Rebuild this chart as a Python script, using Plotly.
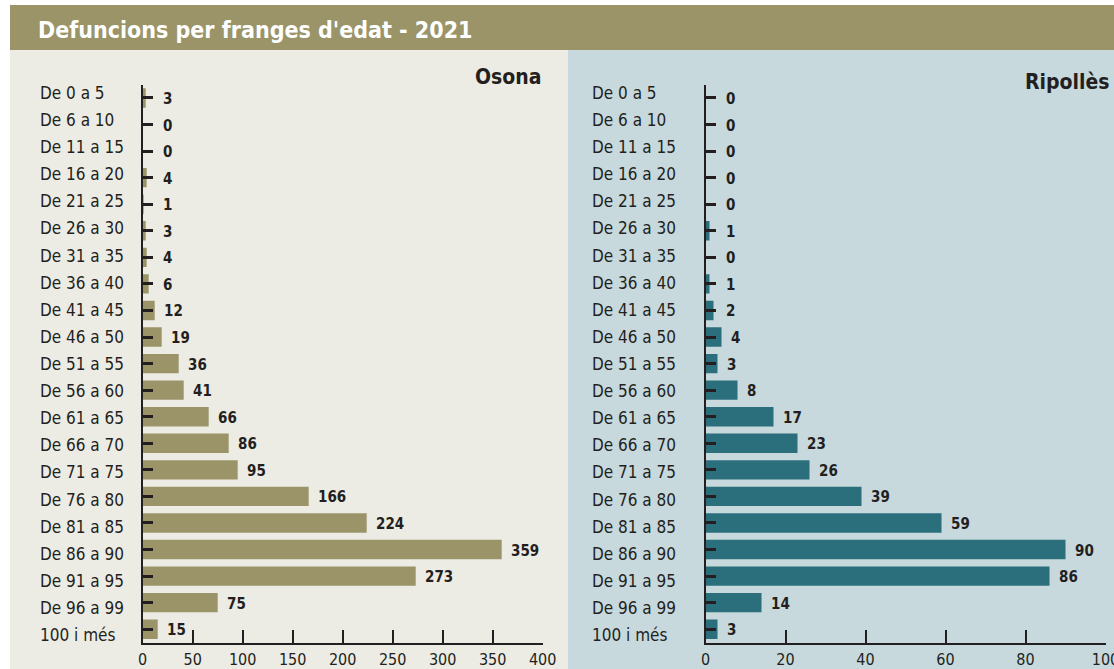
import plotly.graph_objects as go

W, H = 1114, 669

categories = ["De 0 a 5", "De 6 a 10", "De 11 a 15", "De 16 a 20", "De 21 a 25",
              "De 26 a 30", "De 31 a 35", "De 36 a 40", "De 41 a 45", "De 46 a 50",
              "De 51 a 55", "De 56 a 60", "De 61 a 65", "De 66 a 70", "De 71 a 75",
              "De 76 a 80", "De 81 a 85", "De 86 a 90", "De 91 a 95", "De 96 a 99",
              "100 i més"]
osona = [3, 0, 0, 4, 1, 3, 4, 6, 12, 19, 36, 41, 66, 86, 95, 166, 224, 359, 273, 75, 15]
ripolles = [0, 0, 0, 0, 0, 1, 0, 1, 2, 4, 3, 8, 17, 23, 26, 39, 59, 90, 86, 14, 3]
title = "Defuncions per franges d'edat - 2021"
panel_titles = ["Osona", "Ripollès"]
osona_ticks = [0, 50, 100, 150, 200, 250, 300, 350, 400]
ripolles_ticks = [0, 20, 40, 60, 80, 100]

OLIVE = "#9a9468"
TEAL = "#2a6f7b"
BG_L = "#edece4"
BG_R = "#c7d9dd"
DARK = "#231f20"
NARROW = "DejaVu Sans Condensed, Liberation Sans Narrow, sans-serif"

def px(x):
    return x / W

def py(y):
    return 1 - y / H

N = len(categories)
fig = go.Figure()
fig.add_trace(go.Bar(x=osona, y=categories, orientation="h", marker_color=OLIVE,
                     xaxis="x", yaxis="y", hoverinfo="x+y"))
fig.add_trace(go.Bar(x=ripolles, y=categories, orientation="h", marker_color=TEAL,
                     xaxis="x2", yaxis="y2", hoverinfo="x+y"))

YTICK = 10
ydom = [py(642.5), py(84.7)]
common_y = dict(type="category", categoryorder="array", categoryarray=categories,
                range=[N - 0.5, -0.5], showticklabels=False,
                ticks="inside", ticklen=YTICK, tickwidth=2.5, tickcolor=DARK,
                showline=True, linecolor=DARK, linewidth=2, showgrid=False,
                zeroline=False, domain=ydom, layer="above traces", automargin=False)
common_x = dict(ticks="inside", ticklen=13, tickwidth=2, tickcolor=DARK,
                showline=True, linecolor=DARK, linewidth=2, showgrid=False,
                zeroline=False, tickfont=dict(family=NARROW, size=16, color=DARK),
                ticklabelstandoff=1, automargin=False, ticklabeloverflow="allow")

fig.update_layout(
    template="none",
    width=W, height=H, margin=dict(l=0, r=0, t=0, b=0, pad=0, autoexpand=False),
    paper_bgcolor="white", plot_bgcolor="rgba(0,0,0,0)",
    showlegend=False, bargap=0.27,
    xaxis=dict(domain=[px(142.7), px(542.7)], range=[0, 400], tickvals=osona_ticks,
               anchor="y", **common_x),
    yaxis=dict(anchor="x", **common_y),
    xaxis2=dict(domain=[px(705.5), px(1105.5)], range=[0, 100], tickvals=ripolles_ticks,
                anchor="y2", **common_x),
    yaxis2=dict(anchor="x2", **common_y),
    # hidden axis used only to place the category labels (their rows are spaced a bit wider)
    yaxis3=dict(domain=[py(648.6), py(79.4)], range=[N - 0.5, -0.5], visible=False,
                anchor="free", position=0, automargin=False),
)

shapes = [
    dict(type="rect", xref="paper", yref="paper", x0=px(10), x1=1, y0=py(50), y1=py(5),
         fillcolor=OLIVE, line_width=0, layer="below"),
    dict(type="rect", xref="paper", yref="paper", x0=px(10), x1=px(568), y0=0, y1=py(50),
         fillcolor=BG_L, line_width=0, layer="below"),
    dict(type="rect", xref="paper", yref="paper", x0=px(568), x1=1, y0=0, y1=py(50),
         fillcolor=BG_R, line_width=0, layer="below"),
]
fig.update_layout(shapes=shapes)

ann = []
ann.append(dict(text="<b>" + title + "</b>", xref="paper", yref="paper", x=px(36), y=py(30),
                xanchor="left", yanchor="middle", showarrow=False,
                font=dict(family=NARROW, size=23, color="white")))
ann.append(dict(text="<b>" + panel_titles[0] + "</b>", xref="paper", yref="paper",
                x=px(544), y=py(77), xanchor="right", yanchor="middle", showarrow=False,
                font=dict(family=NARROW, size=21, color=DARK)))
ann.append(dict(text="<b>" + panel_titles[1] + "</b>", xref="paper", yref="paper",
                x=px(1112), y=py(82), xanchor="right", yanchor="middle", showarrow=False,
                font=dict(family=NARROW, size=21, color=DARK)))

for xl in [px(38), px(590)]:
    for i, c in enumerate(categories):
        ann.append(dict(text=c, xref="paper", yref="y3", x=xl, y=i, xanchor="left",
                        yanchor="middle", showarrow=False,
                        font=dict(family=NARROW, size=17, color=DARK)))

# value labels: just past the bar end, or past the axis tick when the bar is shorter
for vals, xref, yref, ppu in [(osona, "x", "y", 400 / 400), (ripolles, "x2", "y2", 400 / 100)]:
    for c, v in zip(categories, vals):
        shift = max(7, YTICK + 8 - v * ppu)
        ann.append(dict(text="<b>%d</b>" % v, xref=xref, yref=yref, x=v, y=c,
                        xanchor="left", yanchor="middle", showarrow=False, xshift=shift,
                        yshift=-1, font=dict(family=NARROW, size=15, color=DARK)))

fig.update_layout(annotations=ann)
fig.write_html("out.html")
